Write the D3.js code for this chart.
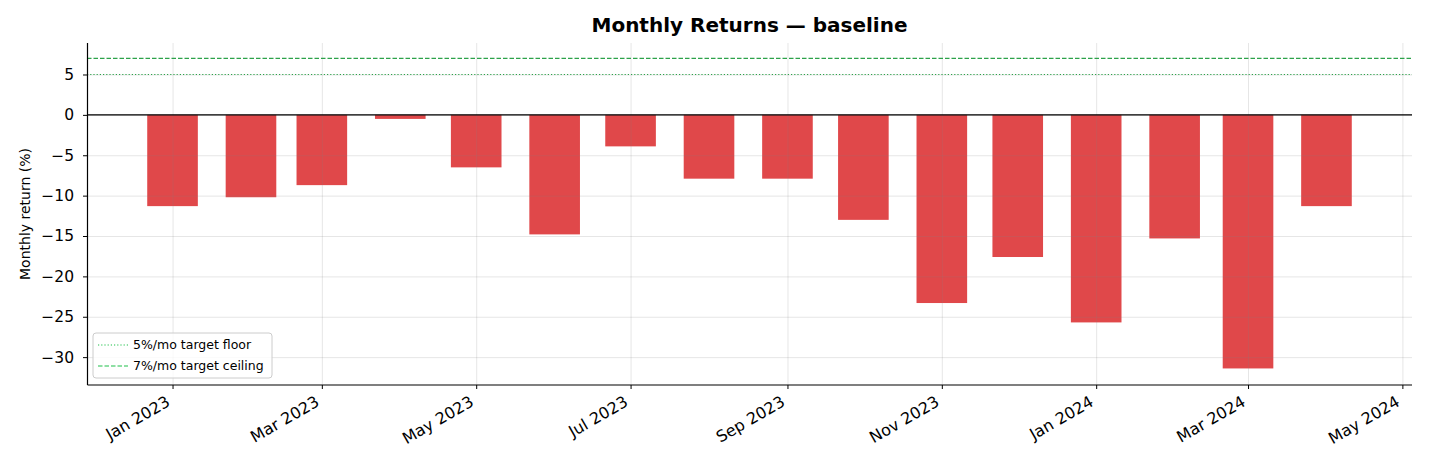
<!DOCTYPE html>
<html>
<head>
<meta charset="utf-8">
<script src="https://cdn.jsdelivr.net/npm/d3@7"></script>
<style>
  body { margin: 0; background: #fff; }
  svg { font-family: "DejaVu Sans", sans-serif; }
  .grid line { stroke: #808080; stroke-opacity: 0.2; }
  .grid path { display: none; }
</style>
</head>
<body>
<div id="chart"></div>
<script>
// monthly returns (%), one per month start
var months = ["2023-01-01", "2023-02-01", "2023-03-01", "2023-04-01", "2023-05-01", "2023-06-01",
  "2023-07-01", "2023-08-01", "2023-09-01", "2023-10-01", "2023-11-01", "2023-12-01",
  "2024-01-01", "2024-02-01", "2024-03-01", "2024-04-01"]
var returns = [-11.3, -10.2, -8.7, -0.5, -6.5, -14.8, -3.9, -7.9, -7.9, -13.0, -23.3, -17.6,
  -25.7, -15.3, -31.4, -11.3]
var yTicks = [5, 0, -5, -10, -15, -20, -25, -30]
var targetFloor = 5, targetCeiling = 7
var legendLabels = ["5%/mo target floor", "7%/mo target ceiling"]

var W = 1430, H = 468
var margin = {top: 43, right: 18, bottom: 83, left: 87},
width = W - margin.left - margin.right,
height = H - margin.top - margin.bottom

var parse = d3.utcParse("%Y-%m-%d")
var data = months.map((m, i) => ({date: parse(m), value: returns[i]}))
var halfBar = 10 // days

var svg = d3.select("#chart").append("svg")
  .attr("width", W)
  .attr("height", H)

var g = svg.append("g")
  .attr("transform", "translate(" + margin.left + "," + margin.top + ")")

// x: time scale with 5% padding like matplotlib
var t0 = d3.utcDay.offset(data[0].date, -halfBar),
t1 = d3.utcDay.offset(data[data.length - 1].date, halfBar),
pad = (t1 - t0) * 0.05
var x = d3.scaleUtc()
  .domain([new Date(+t0 - pad), new Date(+t1 + pad)])
  .range([0, width])

var y = d3.scaleLinear()
  .domain([-33.45, 8.9])
  .range([height, 0])

var xTickVals = d3.utcMonth.every(2).range(d3.utcMonth.floor(x.domain()[0]), x.domain()[1])
  .filter(d => d >= x.domain()[0])

// bars
g.selectAll(".bar")
  .data(data)
  .enter().append("rect")
  .attr("class", "bar")
  .attr("x", d => x(d3.utcDay.offset(d.date, -halfBar)))
  .attr("width", d => x(d3.utcDay.offset(d.date, halfBar)) - x(d3.utcDay.offset(d.date, -halfBar)))
  .attr("y", d => y(Math.max(0, d.value)))
  .attr("height", d => Math.abs(y(d.value) - y(0)))
  .style("fill", "#e0484a")

// grid, drawn over the bars
g.append("g")
  .attr("class", "grid")
  .attr("transform", "translate(0," + height + ")")
  .call(d3.axisBottom(x).tickValues(xTickVals).tickSize(-height).tickFormat(""))
g.append("g")
  .attr("class", "grid")
  .call(d3.axisLeft(y).tickValues(yTicks).tickSize(-width).tickFormat(""))

// zero line
g.append("line")
  .attr("x1", 0).attr("x2", width)
  .attr("y1", y(0)).attr("y2", y(0))
  .style("stroke", "#000").style("stroke-width", 1.2)

// target lines
g.append("line")
  .attr("x1", 0).attr("x2", width)
  .attr("y1", y(targetFloor)).attr("y2", y(targetFloor))
  .style("stroke", "#2ca24a").style("stroke-width", 1.2)
  .style("stroke-dasharray", "1.2,2")
g.append("line")
  .attr("x1", 0).attr("x2", width)
  .attr("y1", y(targetCeiling)).attr("y2", y(targetCeiling))
  .style("stroke", "#2ca24a").style("stroke-width", 1.2)
  .style("stroke-dasharray", "4.5,2")

// axes
var xAxis = g.append("g")
  .attr("transform", "translate(0," + height + ")")
  .call(d3.axisBottom(x).tickValues(xTickVals).tickSize(4).tickFormat(d3.utcFormat("%b %Y")))
xAxis.attr("font-size", 16).attr("font-family", "DejaVu Sans")
xAxis.selectAll("text")
  .style("font-size", "16px")
  .attr("text-anchor", "end")
  .attr("dy", null)
  .attr("transform", "translate(-2,20) rotate(-30)")
  .attr("y", 0).attr("x", 0)

var yAxis = g.append("g")
  .call(d3.axisLeft(y).tickValues(yTicks).tickSize(4).tickFormat(d => d < 0 ? "\u2212" + Math.abs(d) : d))
yAxis.attr("font-size", 15.5).attr("font-family", "DejaVu Sans")
yAxis.selectAll("text")
  .style("font-size", "15.5px")
  .attr("x", -13)

// axis spines without end caps
xAxis.select(".domain").attr("d", "M0.5,0H" + width).style("stroke-width", 1.2)
yAxis.select(".domain").attr("d", "M0.5," + height + "V0").style("stroke-width", 1.2)

svg.append("text")
  .attr("transform", "translate(30," + (margin.top + height / 2) + ") rotate(-90)")
  .attr("text-anchor", "middle")
  .style("font-size", "14px")
  .text("Monthly return (%)")

svg.append("text")
  .attr("x", margin.left + width / 2)
  .attr("y", 32)
  .attr("text-anchor", "middle")
  .style("font-size", "20px")
  .style("font-weight", "bold")
  .text("Monthly Returns \u2014 baseline")

// legend
var lg = g.append("g").attr("transform", "translate(6," + (height - 52) + ")")
lg.append("rect")
  .attr("width", 179).attr("height", 45).attr("rx", 3)
  .style("fill", "#fff").style("fill-opacity", 0.8)
  .style("stroke", "#ccc")
var dashes = ["1.2,2", "4.5,2"]
legendLabels.forEach((lab, i) => {
  var row = lg.append("g").attr("transform", "translate(0," + (12 + i * 21) + ")")
  row.append("line")
    .attr("x1", 5).attr("x2", 35)
    .style("stroke", "#1ec04a").style("stroke-width", 1.2)
    .style("stroke-dasharray", dashes[i])
  row.append("text")
    .attr("x", 40).attr("dy", "0.35em")
    .style("font-size", "12.5px")
    .text(lab)
})
</script>
</body>
</html>
